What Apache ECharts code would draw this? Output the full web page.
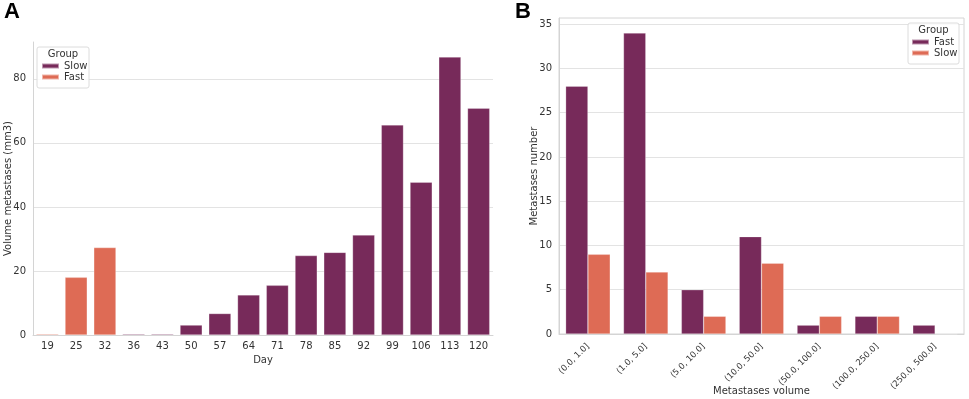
<!DOCTYPE html>
<html>
<head>
<meta charset="utf-8">
<script src="https://cdn.jsdelivr.net/npm/echarts@6/dist/echarts.min.js"></script>
<style>
  html, body { margin: 0; padding: 0; background: #fff; }
  #chart { width: 969px; height: 399px; }
</style>
</head>
<body>
<div id="chart"></div>
<script>
// panel A: volume per day
var days = ['19', '25', '32', '36', '43', '50', '57', '64', '71', '78', '85', '92', '99', '106', '113', '120'];
var volSlow = [null, null, null, 0.3, 0.3, 3.1, 6.7, 12.5, 15.5, 24.8, 25.8, 31.2, 65.6, 47.7, 86.8, 70.8];
var volFast = [0.3, 18, 27.3, null, null, null, null, null, null, null, null, null, null, null, null, null];
var yTicksA = { min: 0, max: 91.5, interval: 20 };

// panel B: metastases count per volume bin
var bins = ['(0.0, 1.0]', '(1.0, 5.0]', '(5.0, 10.0]', '(10.0, 50.0]', '(50.0, 100.0]', '(100.0, 250.0]', '(250.0, 500.0]'];
var cntFast = [28, 34, 5, 11, 1, 2, 1];
var cntSlow = [9, 7, 2, 8, 2, 2, 0];
var yTicksB = { min: 0, max: 35.7, interval: 5 };

var PURPLE = '#772a5a';
var ORANGE = '#de6b55';
var FONT = 'DejaVu Sans';
var TXT = '#333';
var AXIS = '#d4d4d4';
var GRID = '#e3e3e3';

var chart = echarts.init(document.getElementById('chart'));

function legendBox(x, y, w, h) {
  return [
    { type: 'rect', z: 3, shape: { x: x, y: y, width: w, height: h, r: 2 },
      style: { fill: 'rgba(255,255,255,0.85)', stroke: '#dcdcdc', lineWidth: 1 } },
    { type: 'text', z: 3, x: x + w / 2, y: y + 7,
      style: { text: 'Group', fill: TXT, font: '10px "DejaVu Sans"', align: 'center', verticalAlign: 'middle' } }
  ];
}

chart.setOption({
  animation: false,
  textStyle: { fontFamily: FONT },
  title: [
    { text: 'A', left: 4, top: 1, padding: 0, textStyle: { fontFamily: 'Liberation Sans', fontWeight: 'bold', fontSize: 22, color: '#000' } },
    { text: 'B', left: 515, top: 1, padding: 0, textStyle: { fontFamily: 'Liberation Sans', fontWeight: 'bold', fontSize: 22, color: '#000' } }
  ],
  graphic: legendBox(37, 47, 52, 41).concat(legendBox(908, 23, 51, 41)),
  legend: [
    { orient: 'vertical', left: 41, top: 61, padding: 0, itemGap: 1, itemWidth: 17, itemHeight: 5,
      icon: 'rect', textStyle: { fontSize: 10, color: TXT, fontFamily: FONT },
      data: [{ name: 'Slow', itemStyle: { color: PURPLE } }, { name: 'Fast', itemStyle: { color: ORANGE } }] },
    { orient: 'vertical', left: 911, top: 37, padding: 0, itemGap: 1, itemWidth: 17, itemHeight: 5,
      icon: 'rect', textStyle: { fontSize: 10, color: TXT, fontFamily: FONT },
      data: [{ name: 'Fast', itemStyle: { color: PURPLE } }, { name: 'Slow', itemStyle: { color: ORANGE } }] }
  ],
  grid: [
    { left: 33, right: 476, top: 42, bottom: 64, outerBoundsMode: 'none' },
    { left: 559, right: 5, top: 18, bottom: 65, show: true, borderColor: AXIS, borderWidth: 1, outerBoundsMode: 'none' }
  ],
  xAxis: [
    { type: 'category', gridIndex: 0, data: days,
      name: 'Day', nameLocation: 'middle', nameGap: 20, nameMoveOverlap: false,
      nameTextStyle: { fontSize: 10, color: TXT },
      axisLine: { lineStyle: { color: AXIS } }, axisTick: { show: false },
      axisLabel: { fontSize: 10, color: TXT, margin: 6 } },
    { type: 'category', gridIndex: 1, data: bins,
      name: 'Metastases volume', nameLocation: 'middle', nameGap: 52, nameMoveOverlap: false,
      nameTextStyle: { fontSize: 10, color: TXT },
      axisLine: { lineStyle: { color: AXIS } }, axisTick: { show: false },
      axisLabel: { fontSize: 8.5, color: TXT, rotate: 45, margin: 11, interval: 0 } }
  ],
  yAxis: [
    { type: 'value', gridIndex: 0, min: yTicksA.min, max: yTicksA.max, interval: yTicksA.interval,
      name: 'Volume metastases (mm3)', nameLocation: 'middle', nameGap: 20, nameMoveOverlap: false,
      nameTextStyle: { fontSize: 10, color: TXT },
      axisLine: { show: true, lineStyle: { color: AXIS } }, axisTick: { show: false },
      axisLabel: { fontSize: 10, color: TXT, margin: 7, showMaxLabel: false },
      splitLine: { lineStyle: { color: GRID }, showMaxLine: false } },
    { type: 'value', gridIndex: 1, min: yTicksB.min, max: yTicksB.max, interval: yTicksB.interval,
      name: 'Metastases number', nameLocation: 'middle', nameGap: 20, nameMoveOverlap: false,
      nameTextStyle: { fontSize: 10, color: TXT },
      axisLine: { show: true, lineStyle: { color: AXIS } }, axisTick: { show: false },
      axisLabel: { fontSize: 10, color: TXT, margin: 7, showMaxLabel: false },
      splitLine: { lineStyle: { color: GRID }, showMaxLine: false } }
  ],
  series: [
    { name: 'Slow', type: 'bar', xAxisIndex: 0, yAxisIndex: 0, data: volSlow,
      barGap: '-100%', barCategoryGap: '23%',
      itemStyle: { color: PURPLE, borderColor: 'rgba(255,255,255,0.5)', borderWidth: 0.5 } },
    { name: 'Fast', type: 'bar', xAxisIndex: 0, yAxisIndex: 0, data: volFast,
      barGap: '-100%', barCategoryGap: '23%',
      itemStyle: { color: ORANGE, borderColor: 'rgba(255,255,255,0.5)', borderWidth: 0.5 } },
    { name: 'Fast', type: 'bar', xAxisIndex: 1, yAxisIndex: 1, data: cntFast,
      barGap: '0%', barCategoryGap: '23%',
      itemStyle: { color: PURPLE, borderColor: 'rgba(255,255,255,0.5)', borderWidth: 0.5 } },
    { name: 'Slow', type: 'bar', xAxisIndex: 1, yAxisIndex: 1, data: cntSlow,
      barGap: '0%', barCategoryGap: '23%',
      itemStyle: { color: ORANGE, borderColor: 'rgba(255,255,255,0.5)', borderWidth: 0.5 } }
  ]
});

window.addEventListener('resize', function () { chart.resize(); });
</script>
</body>
</html>
